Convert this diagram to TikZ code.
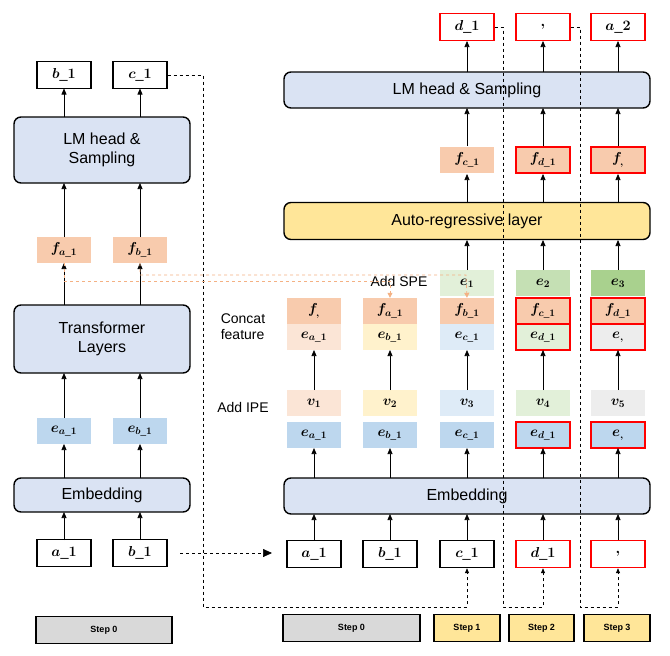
\documentclass[tikz,border=0pt]{standalone}
\usepackage{amsmath,bm}
\usepackage{fontspec}
\setmainfont{Liberation Sans}
\usetikzlibrary{arrows.meta}
\definecolor{boxblue}{HTML}{DAE3F3}
\definecolor{eblue}{HTML}{BDD7EE}
\definecolor{forange}{HTML}{F8CBAD}
\definecolor{c1}{HTML}{FBE5D6}
\definecolor{c2}{HTML}{FFF2CC}
\definecolor{c3}{HTML}{DEEBF7}
\definecolor{c4}{HTML}{E2F0D9}
\definecolor{c5}{HTML}{EDEDED}
\definecolor{g2}{HTML}{C5E0B4}
\definecolor{g3}{HTML}{A9D18E}
\definecolor{yel}{HTML}{FFE699}
\definecolor{gry}{HTML}{D9D9D9}
\definecolor{dorange}{HTML}{F4B183}
\newcommand{\mm}[1]{$\bm{#1}$}
\begin{document}
\begin{tikzpicture}[x=1pt,y=-1pt,
  tok/.style={draw,line width=1.4pt,minimum width=54pt,minimum height=27pt,inner sep=0pt,font=\Large},
  tokr/.style={tok,draw=red},
  cell/.style={minimum width=54pt,minimum height=26pt,inner sep=0pt,font=\Large},
  redc/.style={draw=red,line width=1.4pt},
  blk/.style={draw,line width=1.4pt,rounded corners=7pt,fill=boxblue,inner sep=0pt,font=\fontsize{16}{19}\selectfont,align=center},
  stp/.style={draw,line width=1.4pt,inner sep=0pt,minimum height=27pt,font=\bfseries\small},
  ar/.style={-{Triangle[length=6pt,width=5pt]},line width=0.7pt},
  dsh/.style={dashed,line width=0.7pt},
  od/.style={dashed,draw=dorange,line width=0.8pt}]
\useasboundingbox (0,0) rectangle (670,656);
% ---------- left column ----------
\node[tok] (ob1) at (64,75) {\mm{b\_1}};
\node[tok] (oc1) at (140,75) {\mm{c\_1}};
\node[blk,minimum width=176pt,minimum height=66pt] (lmL) at (102,150) {LM head \&\\Sampling};
\node[cell,fill=forange] (fa) at (64,250) {\mm{f_{a\_1}}};
\node[cell,fill=forange] (fb) at (140,250) {\mm{f_{b\_1}}};
\node[blk,minimum width=176pt,minimum height=68pt] (tr) at (102,339) {Transformer\\Layers};
\node[cell,fill=eblue] (ea) at (64,431) {\mm{e_{a\_1}}};
\node[cell,fill=eblue] (eb) at (140,431) {\mm{e_{b\_1}}};
\node[blk,minimum width=176pt,minimum height=34pt] (embL) at (102,495) {Embedding};
\node[tok] (ia) at (64,553) {\mm{a\_1}};
\node[tok] (ib) at (140,553) {\mm{b\_1}};
\node[stp,fill=gry,minimum width=136pt] (s0L) at (104,630) {Step 0};
\foreach \x in {64,140}{
  \draw[ar] (\x,540) -- (\x,512);
  \draw[ar] (\x,478) -- (\x,444);
  \draw[ar] (\x,418) -- (\x,373);
  \draw[ar] (\x,305) -- (\x,263);
  \draw[ar] (\x,237) -- (\x,183);
  \draw[ar] (\x,117) -- (\x,88.5);
}
% ---------- right ----------
\node[tokr] (od1) at (467,27) {\mm{d\_1}};
\node[tokr] (ocm) at (543,27) {\mm{,}};
\node[tokr] (oa2) at (618,27) {\mm{a\_2}};
\node[blk,minimum width=366pt,minimum height=36pt] (lmR) at (467,90) {LM head \& Sampling};
\node[cell,fill=forange] (fc) at (467,160) {\mm{f_{c\_1}}};
\node[cell,fill=forange,redc] (fd) at (543,160) {\mm{f_{d\_1}}};
\node[cell,fill=forange,redc] (fcm) at (618,160) {\mm{f_{,}}};
\node[blk,fill=yel,minimum width=366pt,minimum height=37pt] (arl) at (467,221) {Auto-regressive layer};
\node[font=\fontsize{14}{16}\selectfont] (spe) at (399,281) {Add SPE};
\node[cell,fill=c4] (e1) at (467,283) {\mm{e_1}};
\node[cell,fill=g2] (e2) at (543,283) {\mm{e_2}};
\node[cell,fill=g3] (e3) at (618,283) {\mm{e_3}};
\node[font=\fontsize{14}{16}\selectfont,align=left] (cf) at (243,327) {Concat\\feature};
\node[cell,fill=forange] (k1) at (314,311) {\mm{f_{,}}};
\node[cell,fill=forange] (k2) at (390,311) {\mm{f_{a\_1}}};
\node[cell,fill=forange] (k3) at (467,311) {\mm{f_{b\_1}}};
\node[cell,fill=forange,redc] (k4) at (543,311) {\mm{f_{c\_1}}};
\node[cell,fill=forange,redc] (k5) at (618,311) {\mm{f_{d\_1}}};
\node[cell,fill=c1] (m1) at (314,337) {\mm{e_{a\_1}}};
\node[cell,fill=c2] (m2) at (390,337) {\mm{e_{b\_1}}};
\node[cell,fill=c3] (m3) at (467,337) {\mm{e_{c\_1}}};
\node[cell,fill=c4,redc] (m4) at (543,337) {\mm{e_{d\_1}}};
\node[cell,fill=c5,redc] (m5) at (618,337) {\mm{e_{,}}};
\node[font=\fontsize{14}{16}\selectfont] (ipe) at (243,407) {Add IPE};
\node[cell,fill=c1] (v1) at (314,403) {\mm{v_1}};
\node[cell,fill=c2] (v2) at (390,403) {\mm{v_2}};
\node[cell,fill=c3] (v3) at (467,403) {\mm{v_3}};
\node[cell,fill=c4] (v4) at (543,403) {\mm{v_4}};
\node[cell,fill=c5] (v5) at (618,403) {\mm{v_5}};
\node[cell,fill=eblue] (n1) at (314,435) {\mm{e_{a\_1}}};
\node[cell,fill=eblue] (n2) at (390,435) {\mm{e_{b\_1}}};
\node[cell,fill=eblue] (n3) at (467,435) {\mm{e_{c\_1}}};
\node[cell,fill=eblue,redc] (n4) at (543,435) {\mm{e_{d\_1}}};
\node[cell,fill=eblue,redc] (n5) at (618,435) {\mm{e_{,}}};
\node[blk,minimum width=366pt,minimum height=36pt] (embR) at (467,496) {Embedding};
\node[tok] (ra) at (314,554) {\mm{a\_1}};
\node[tok] (rb) at (390,554) {\mm{b\_1}};
\node[tok] (rc) at (467,554) {\mm{c\_1}};
\node[tokr] (rd) at (543,554) {\mm{d\_1}};
\node[tokr] (rcm) at (618,554) {\mm{,}};
\node[stp,fill=gry,minimum width=137pt] (s0R) at (351.5,628) {Step 0};
\node[stp,fill=yel,minimum width=66pt] (s1) at (467,628) {Step 1};
\node[stp,fill=yel,minimum width=65pt] (s2) at (541.5,628) {Step 2};
\node[stp,fill=yel,minimum width=66pt] (s3) at (617,628) {Step 3};
% arrows right
\foreach \x in {314,390,467,543,618}{
  \draw[ar] (\x,540) -- (\x,514);
  \draw[ar] (\x,478) -- (\x,448);
  \draw[ar] (\x,390) -- (\x,350);
}
\foreach \x in {467,543,618}{
  \draw[ar] (\x,270) -- (\x,240);
  \draw[ar] (\x,203) -- (\x,174);
  \draw[ar] (\x,146) -- (\x,108);
  \draw[ar] (\x,72) -- (\x,41);
}
% dashed feedback
\coordinate (jump0) at (180,553);
\coordinate (jump1) at (272,553);
\draw[dsh,-{Triangle[length=5pt,width=4pt]}] (oc1.east) -- (203,75) -- (203,607) -- (467,607) -- (rc.south);
\draw[dsh,-{Triangle[length=5pt,width=4pt]}] (od1.east) -- (503,27) -- (503,607) -- (543,607) -- (rd.south);
\draw[dsh,-{Triangle[length=5pt,width=4pt]}] (ocm.east) -- (580,27) -- (580,607) -- (618,607) -- (rcm.south);
\draw[dsh,-{Triangle[length=9pt,width=8pt]}] (jump0) -- (jump1);
% orange dashed
\draw[od,-{Triangle[length=5pt,width=5pt]}] (fa.south) -- (64,281) -- (390,281) -- (k2.north);
\draw[od,-{Triangle[length=5pt,width=5pt]}] (fb.south) -- (140,275) -- (466,275) -- (k3.north);
\end{tikzpicture}
\end{document}
